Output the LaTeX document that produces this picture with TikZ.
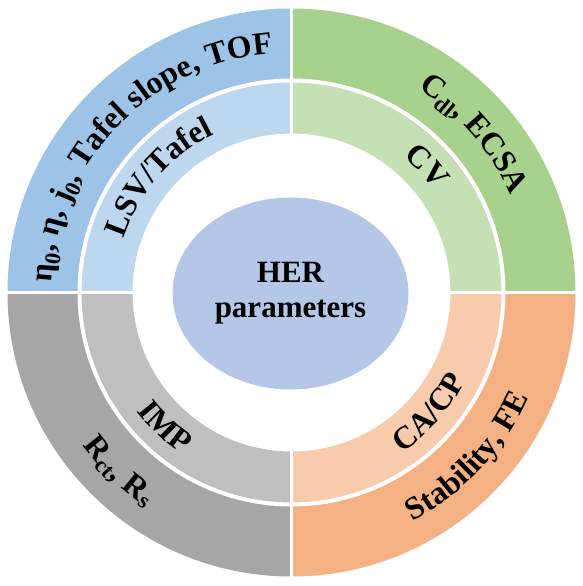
\documentclass[tikz,border=0pt]{standalone}
\usepackage{fontspec}
\setmainfont{Liberation Serif}
\usetikzlibrary{decorations.text,shapes.geometric}
\definecolor{bluO}{HTML}{9DC3E6}
\definecolor{bluI}{HTML}{BDD7EE}
\definecolor{grnO}{HTML}{A9D18E}
\definecolor{grnI}{HTML}{C5E0B4}
\definecolor{orgO}{HTML}{F4B183}
\definecolor{orgI}{HTML}{F8CBAD}
\definecolor{gryO}{HTML}{A6A6A6}
\definecolor{gryI}{HTML}{BFBFBF}
\definecolor{ellC}{HTML}{B4C7E7}
\newcommand\arcf{\bfseries\fontsize{32}{32}\selectfont}
\tikzset{
  arctext/.style={decorate, decoration={text along path, text align=center, text={#1}}},
  gapline/.style={white, line width=3pt},
}
\begin{document}
\begin{tikzpicture}[x=1pt,y=1pt]
\useasboundingbox (-291.5,-293.5) rectangle (290.5,292.5);
% sectors: start angle / outer colour / inner colour
\foreach \a/\co/\ci in {90/bluO/bluI, 0/grnO/grnI, -90/orgO/orgI, 180/gryO/gryI}{
  \pgfmathsetmacro\b{\a+90}
  \fill[\co] (\a:212) arc[start angle=\a, end angle=\b, radius=212] -- (\b:284) arc[start angle=\b, end angle=\a, radius=284] -- cycle;
  \fill[\ci] (\a:159) arc[start angle=\a, end angle=\b, radius=159] -- (\b:212) arc[start angle=\b, end angle=\a, radius=212] -- cycle;
}
\draw[gapline] (-286,0) -- (286,0);
\draw[gapline] (0,-286) -- (0,286);
\draw[white, line width=4pt] (0,0) circle[radius=212];
% centre
\node[ellipse, fill=ellC, minimum width=236pt, minimum height=192pt, inner sep=0pt, align=center,
      font=\bfseries\fontsize{31}{35}\selectfont] (her) at (-1,-1) {HER\\parameters};
% top-left
\path[arctext={|\arcf|η{\textsubscript{0}}, η, j{\textsubscript{0}}, Tafel slope, TOF}] (180:240) arc[start angle=180, end angle=92, radius=240];
\path[arctext={|\arcf|LSV/Tafel}] (179:176) arc[start angle=179, end angle=99, radius=176];
% top-right
\path[arctext={|\arcf|C{\textsubscript{dl}}, ECSA}] (85:240) arc[start angle=85, end angle=-3, radius=240];
\path[arctext={|\arcf|CV}] (83:176) arc[start angle=83, end angle=3, radius=176];
% bottom-right
\path[arctext={|\arcf|Stability, FE}] (-87:259) arc[start angle=-87, end angle=1, radius=259];
\path[arctext={|\arcf|CA/CP}] (-81:195) arc[start angle=-81, end angle=-1, radius=195];
% bottom-left
\path[arctext={|\arcf|R{\textsubscript{ct}}, R{\textsubscript{s}}}] (182:259) arc[start angle=182, end angle=270, radius=259];
\path[arctext={|\arcf|IMP}] (186.6:195) arc[start angle=186.6, end angle=266.6, radius=195];
\end{tikzpicture}
\end{document}
